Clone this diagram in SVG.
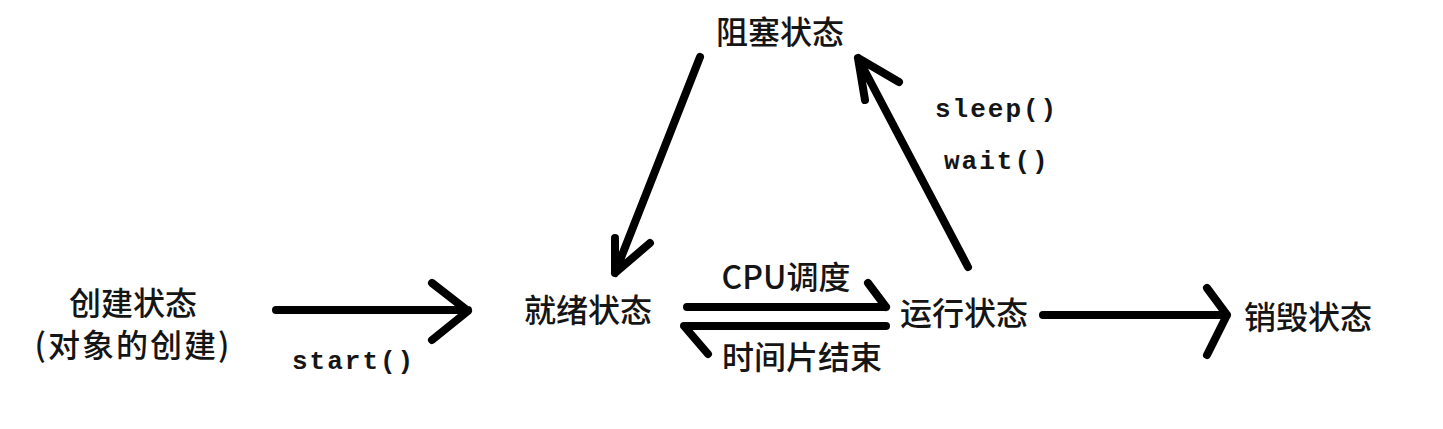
<svg xmlns="http://www.w3.org/2000/svg" width="1443" height="429" viewBox="0 0 1443 429">
<style>
.cn{font-family:"Noto Sans CJK SC","Noto Sans",sans-serif;font-size:32px;fill:#151515;text-anchor:middle;font-weight:500}
.mono{font-family:"Liberation Mono","DejaVu Sans Mono",monospace;font-size:26px;font-weight:bold;fill:#151515;letter-spacing:2px}
.ln{fill:none;stroke:#000;stroke-width:8;stroke-linecap:round;stroke-linejoin:round}
</style>
<rect width="1443" height="429" fill="#fff"/>
<g id="node-blocked"><text class="cn" x="780" y="44">阻塞状态</text></g>
<g id="node-new"><text class="cn" x="133" y="315">创建状态</text><text class="cn" x="133" y="357" letter-spacing="2">(对象的创建)</text></g>
<g id="node-ready"><text class="cn" x="588" y="322">就绪状态</text></g>
<g id="node-running"><text class="cn" x="964" y="325">运行状态</text></g>
<g id="node-dead"><text class="cn" x="1308" y="329">销毁状态</text></g>
<g id="connectors">
<path class="ln" d="M276,310 H468 M432,283 L468,311 L432,340"/>
<path class="ln" d="M687,307 H886 M868,283 L886,307"/>
<path class="ln" d="M886,326 H684 L708,354"/>
<path class="ln" d="M700,57 L615,273 M615,238 L615,273 L650,243"/>
<path class="ln" d="M968,267 L858,58 M865,100 L858,58 L899,82"/>
<path class="ln" d="M1043,315 H1227 M1207,288 L1227,315 L1207,355"/>
</g>
<g id="labels">
<text class="mono" x="292" y="369">start()</text>
<text class="mono" x="935" y="117">sleep()</text>
<text class="mono" x="944" y="169">wait()</text>
<text class="cn" x="786" y="289" font-size="30">CPU调度</text>
<text class="cn" x="802" y="369">时间片结束</text>
</g>
</svg>
